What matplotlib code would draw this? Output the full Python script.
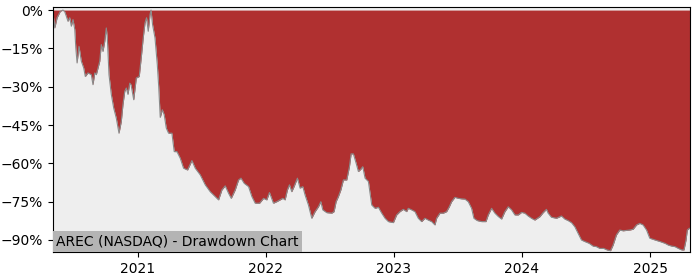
import datetime as dt
import matplotlib
matplotlib.use("Agg")
import matplotlib.pyplot as plt
import matplotlib.dates as mdates
from matplotlib.ticker import FuncFormatter

# time as decimal years, drawdown in percent
years = [
    2020.342, 2020.356, 2020.374, 2020.399, 2020.420, 2020.434, 2020.446, 2020.459,
    2020.473, 2020.485, 2020.498, 2020.512, 2020.520, 2020.530, 2020.545, 2020.563,
    2020.582, 2020.594, 2020.615, 2020.641, 2020.654, 2020.668, 2020.680, 2020.707,
    2020.719, 2020.732, 2020.746, 2020.758, 2020.766, 2020.779, 2020.797, 2020.816,
    2020.836, 2020.857, 2020.875, 2020.888, 2020.902, 2020.914, 2020.927, 2020.941,
    2020.951, 2020.972, 2020.992, 2021.013, 2021.031, 2021.044, 2021.058, 2021.070,
    2021.083, 2021.097, 2021.105, 2021.117, 2021.136, 2021.154, 2021.165, 2021.177,
    2021.193, 2021.208, 2021.224, 2021.242, 2021.268, 2021.286, 2021.307, 2021.333,
    2021.359, 2021.390, 2021.424, 2021.450, 2021.489, 2021.528, 2021.567, 2021.606,
    2021.632, 2021.658, 2021.684, 2021.710, 2021.731, 2021.762, 2021.788, 2021.807,
    2021.832, 2021.866, 2021.892, 2021.918, 2021.952, 2021.983, 2022.009, 2022.030,
    2022.061, 2022.087, 2022.113, 2022.134, 2022.152, 2022.170, 2022.186, 2022.204,
    2022.222, 2022.248, 2022.269, 2022.290, 2022.308, 2022.334, 2022.360, 2022.386,
    2022.412, 2022.431, 2022.446, 2022.477, 2022.516, 2022.534, 2022.550, 2022.568,
    2022.587, 2022.607, 2022.633, 2022.654, 2022.667, 2022.685, 2022.706, 2022.724,
    2022.743, 2022.758, 2022.776, 2022.802, 2022.828, 2022.854, 2022.880, 2022.906,
    2022.932, 2022.958, 2022.997, 2023.023, 2023.049, 2023.075, 2023.101, 2023.114,
    2023.140, 2023.166, 2023.192, 2023.218, 2023.244, 2023.270, 2023.296, 2023.322,
    2023.335, 2023.361, 2023.387, 2023.413, 2023.434, 2023.452, 2023.478, 2023.504,
    2023.530, 2023.556, 2023.582, 2023.608, 2023.626, 2023.652, 2023.686, 2023.720,
    2023.738, 2023.764, 2023.790, 2023.816, 2023.842, 2023.868, 2023.894, 2023.920,
    2023.946, 2023.972, 2023.998, 2024.024, 2024.050, 2024.076, 2024.102, 2024.141,
    2024.167, 2024.193, 2024.206, 2024.232, 2024.271, 2024.310, 2024.336, 2024.362,
    2024.388, 2024.414, 2024.440, 2024.466, 2024.492, 2024.526, 2024.557, 2024.583,
    2024.609, 2024.640, 2024.666, 2024.693, 2024.713, 2024.739, 2024.765, 2024.791,
    2024.843, 2024.869, 2024.896, 2024.921, 2024.947, 2024.974, 2024.999, 2025.038,
    2025.077, 2025.116, 2025.142, 2025.169, 2025.194, 2025.220, 2025.247, 2025.264,
    2025.280, 2025.290, 2025.306, 2025.311,
]
drawdown = [
    -1.0, -7.0, -3.0, -0.5, 0.0, -0.7, -2.4, -4.4,
    -3.0, -6.3, -3.7, -7.6, -14.8, -20.7, -14.2, -20.0,
    -22.7, -26.0, -24.6, -25.3, -29.2, -24.6, -25.3, -20.0,
    -13.5, -16.2, -12.2, -7.0, -10.9, -25.3, -33.0, -38.4,
    -42.3, -48.2, -43.6, -37.0, -31.8, -30.5, -33.0, -28.6,
    -29.2, -35.1, -26.6, -26.0, -17.5, -10.9, -5.0, -3.0,
    -8.3, -1.8, 0.0, -5.7, -10.9, -21.4, -30.0, -42.0,
    -39.0, -41.0, -46.2, -48.2, -48.2, -55.4, -55.4, -58.0,
    -61.9, -62.6, -58.9, -61.9, -64.5, -68.4, -71.1, -73.0,
    -74.3, -70.4, -68.8, -71.7, -73.7, -70.4, -66.5, -65.8,
    -67.8, -69.1, -73.0, -75.6, -75.6, -73.7, -74.3, -71.4,
    -75.6, -75.0, -74.3, -73.7, -74.3, -70.4, -68.4, -71.1,
    -69.1, -65.8, -69.7, -69.1, -72.4, -76.3, -81.5, -78.9,
    -77.0, -75.0, -78.2, -79.3, -79.5, -78.9, -75.0, -73.0,
    -70.4, -66.5, -66.5, -61.3, -56.3, -56.3, -59.9, -63.2,
    -62.3, -61.3, -65.8, -67.1, -76.3, -77.6, -77.2, -79.5,
    -81.5, -82.8, -83.2, -80.2, -78.9, -78.0, -78.9, -77.6,
    -78.2, -78.9, -81.5, -82.8, -81.5, -82.2, -82.8, -84.1,
    -81.5, -79.5, -79.5, -78.9, -77.0, -75.0, -73.3, -73.7,
    -73.9, -74.0, -75.0, -77.6, -81.5, -82.4, -82.8, -82.8,
    -80.2, -77.6, -79.5, -80.8, -81.8, -78.9, -77.0, -78.2,
    -80.2, -80.2, -79.2, -79.5, -80.6, -81.5, -82.2, -80.9,
    -79.3, -78.0, -79.5, -81.1, -81.5, -80.6, -81.8, -82.4,
    -83.2, -84.8, -87.4, -90.0, -90.6, -91.3, -92.4, -92.6,
    -93.3, -93.3, -93.9, -94.2, -92.0, -88.0, -86.1, -86.4,
    -86.1, -85.8, -84.1, -83.5, -84.1, -86.1, -89.3, -90.0,
    -90.6, -91.3, -92.0, -92.4, -92.6, -93.3, -93.9, -93.9,
    -90.0, -86.1, -85.4, -85.4,
]
y_ticks = [0, -15, -30, -45, -60, -75, -90]
title_text = "AREC (NASDAQ) - Drawdown Chart"


def to_date(y):
    yr = int(y)
    start = dt.datetime(yr, 1, 1)
    return start + dt.timedelta(days=(y - yr) * 365.25)


dates = [to_date(y) for y in years]

fig = plt.figure(figsize=(7, 2.8), dpi=100)
ax = fig.add_axes([0.0757, 0.1, 0.91, 0.875])
ax.set_facecolor("#eeeeee")
ax.fill_between(dates, drawdown, 0, color="#b03030", linewidth=0)
ax.plot(dates, drawdown, color="#8a8a8a", linewidth=0.8)

ax.set_xlim(dates[0], dates[-1])
ax.set_ylim(-94.7, 1.2)
ax.set_yticks(y_ticks)
ax.yaxis.set_major_formatter(FuncFormatter(lambda v, p: f"{int(v)}%".replace("-", "\u2212")))
ax.xaxis.set_major_locator(mdates.YearLocator())
ax.xaxis.set_major_formatter(mdates.DateFormatter("%Y"))
ax.tick_params(labelsize=10)

ax.text(0.005, 0.013, title_text, transform=ax.transAxes, fontsize=10,
        ha="left", va="bottom",
        bbox=dict(facecolor="#b4b4b4", edgecolor="none", pad=2.5))

fig.savefig("out.png", dpi=100)
